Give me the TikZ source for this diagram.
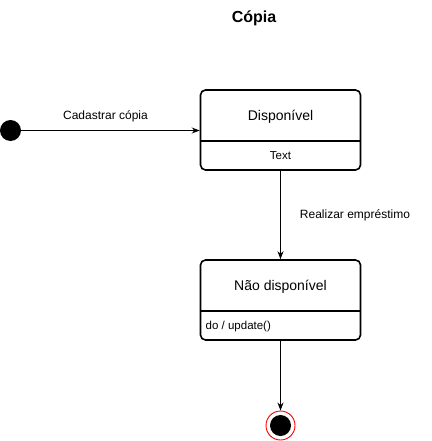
\documentclass[tikz,border=0pt]{standalone}
\usepackage{fontspec}
\setmainfont{Liberation Sans}
\usetikzlibrary{arrows.meta}
\begin{document}
\begin{tikzpicture}[x=1pt,y=-1pt,
  statebox/.style={draw,line width=1.6pt,rounded corners=5pt,minimum width=160pt,minimum height=80pt,inner sep=0pt},
  divider/.style={line width=1.6pt},
  conn/.style={line width=0.9pt,-{Stealth[length=8pt,width=6pt]}},
  lbl/.style={font=\fontsize{12}{14}\selectfont,inner sep=0pt},
  cmp/.style={font=\fontsize{11.5}{14}\selectfont,inner sep=0pt},
  ttl/.style={font=\fontsize{16}{18}\selectfont\bfseries,inner sep=0pt},
  nm/.style={font=\fontsize{14}{16}\selectfont,inner sep=0pt}]
\useasboundingbox (0,0) rectangle (431,441);
\node[ttl,anchor=base] (title) at (254,23) {Cópia};
% initial
\node[circle,fill=black,minimum size=21pt,inner sep=0pt] (init) at (10.5,130.5) {};
% Disponivel
\node[statebox] (disp) at (280.5,130) {};
\draw[divider] (disp.west |- 0,141) -- (disp.east |- 0,141);
\node[nm,anchor=base] (dispname) at (280.5,120.5) {Disponível};
\node[cmp,anchor=base] (disptext) at (280.5,159.5) {Text};
% Nao disponivel
\node[statebox] (ndisp) at (280.5,300) {};
\draw[divider] (ndisp.west |- 0,311) -- (ndisp.east |- 0,311);
\node[nm,anchor=base] (ndispname) at (280.5,290.5) {Não disponível};
\node[cmp,anchor=base west] (ndisptext) at (205.5,329.5) {do / update()};
% final
\node[circle,draw=red,line width=0.9pt,fill=white,minimum size=29pt,inner sep=0pt] (final) at (280.5,425.5) {};
\node[circle,fill=black,minimum size=21pt,inner sep=0pt] (finalin) at (final.center) {};
% connectors
\draw[conn] (init) -- (disp.west |- init);
\node[lbl,anchor=base] (l1) at (105.5,119.5) {Cadastrar cópia};
\draw[conn] (disp.south) -- (ndisp.north);
\node[lbl,anchor=base] (l2) at (355,218.5) {Realizar empréstimo};
\draw[conn] (ndisp.south) -- (final.north);
\end{tikzpicture}
\end{document}
